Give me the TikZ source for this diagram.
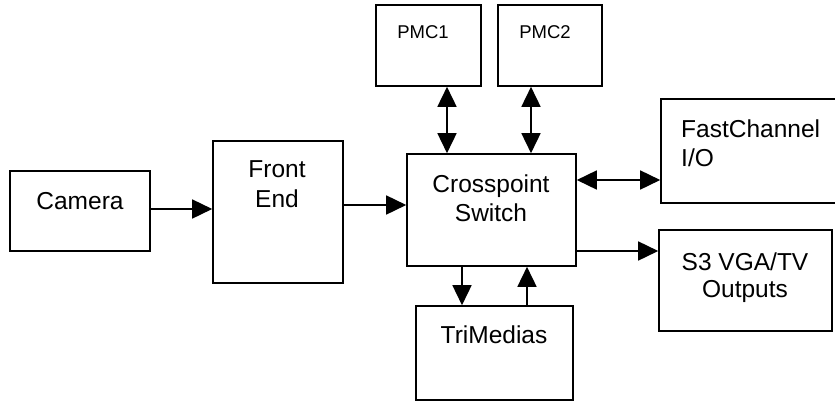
\documentclass[tikz,border=0pt]{standalone}
\usepackage{fontspec}
\setmainfont{Liberation Sans}
\usetikzlibrary{arrows.meta}
\begin{document}
\begin{tikzpicture}[x=1pt,y=-1pt,
  box/.style={draw,line width=1.6pt,inner sep=0pt,fill=none},
  lbl/.style={anchor=base,inner sep=0pt,font=\fontsize{24.5}{29}\selectfont},
  smalllbl/.style={anchor=base,inner sep=0pt,font=\fontsize{18.5}{22}\selectfont},
  tip/.style={},
  arr/.style={line width=1.6pt,-{Triangle[length=20pt,width=19pt]}},
  darr/.style={line width=1.6pt,{Triangle[length=20pt,width=19pt]}-{Triangle[length=20pt,width=19pt]}}]
\useasboundingbox (0,0) rectangle (835,402);
\clip (0,0) rectangle (835,402);
\fill[white] (0,0) rectangle (835,402);
% boxes
\node[box,minimum width=140pt,minimum height=80pt] (cam) at (80,211) {};
\node[box,minimum width=130pt,minimum height=142pt] (fe) at (278,212) {};
\node[box,minimum width=169pt,minimum height=112pt] (cs) at (491.5,210) {};
\node[box,minimum width=105pt,minimum height=81pt] (pmc1) at (428.5,45.5) {};
\node[box,minimum width=104pt,minimum height=81pt] (pmc2) at (550,45.5) {};
\node[box,minimum width=157pt,minimum height=94pt] (tri) at (494.5,353) {};
\node[box,minimum width=199pt,minimum height=104pt] (fc) at (760.5,151) {};
\node[box,minimum width=173pt,minimum height=101pt] (s3) at (745.5,280.5) {};
% labels
\node[lbl] (camT) at (80,209) {Camera};
\node[lbl] (feT1) at (277,177) {Front};
\node[lbl] (feT2) at (277,207) {End};
\node[lbl] (csT1) at (491,192) {Crosspoint};
\node[lbl] (csT2) at (491,221) {Switch};
\node[smalllbl] (pmc1T) at (423,38) {PMC1};
\node[smalllbl] (pmc2T) at (545,38) {PMC2};
\node[lbl] (triT) at (494,343) {TriMedias};
\node[lbl,anchor=base west] (fcT1) at (681,137) {FastChannel};
\node[lbl,anchor=base west] (fcT2) at (681,166) {I/O};
\node[lbl] (s3T1) at (745,270) {S3 VGA/TV};
\node[lbl] (s3T2) at (745,297) {Outputs};
% connectors
\draw[arr] (cam.east |- 0,209) -- (fe.west |- 0,209);
\draw[arr] (fe.east |- 0,205) -- (cs.west |- 0,205);
\draw[darr] (pmc1.south -| 447,0) -- (cs.north -| 447,0);
\draw[darr] (pmc2.south -| 531,0) -- (cs.north -| 531,0);
\draw[darr] (cs.east |- 0,180) -- (fc.west |- 0,180);
\draw[arr] (cs.east |- 0,251) -- (s3.west |- 0,251);
\draw[arr] (cs.south -| 462,0) -- (tri.north -| 462,0);
\draw[arr] (tri.north -| 527,0) -- (cs.south -| 527,0);
\end{tikzpicture}
\end{document}
